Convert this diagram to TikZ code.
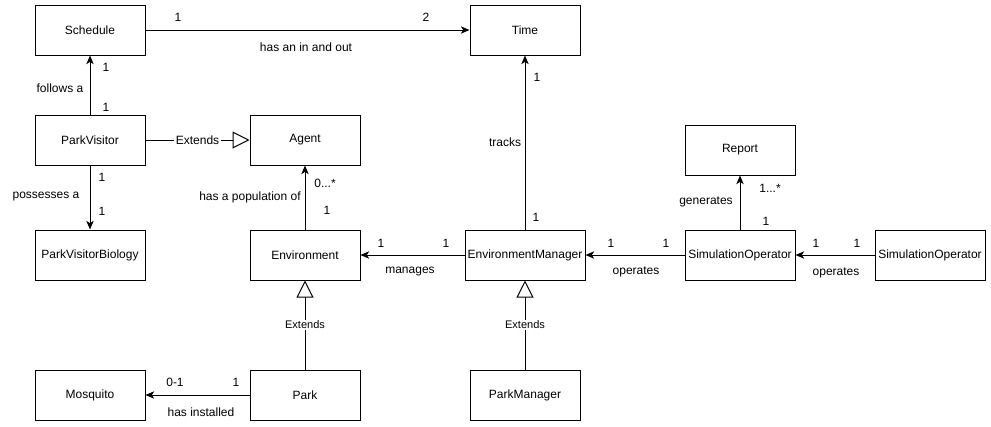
\documentclass[tikz,border=0pt]{standalone}
\usepackage{fontspec}
\setmainfont{Liberation Sans}
\usetikzlibrary{arrows.meta}
\begin{document}
\begin{tikzpicture}[x=0.75pt,y=-0.75pt,
  box/.style={draw, line width=0.75pt, minimum width=82.5pt, minimum height=37.5pt, inner sep=0pt, font=\fontsize{9}{11}\selectfont},
  assoc/.style={line width=0.75pt, -{Stealth[length=6.5pt,width=5.5pt,inset=1.8pt]}},
  ext/.style={line width=0.75pt, -{Triangle[open,length=12.75pt,width=12.75pt,fill=white]}},
  lbl/.style={inner sep=0pt, font=\fontsize{9}{11}\selectfont},
  extlbl/.style={fill=white, inner sep=1pt, font=\fontsize{8.25}{10}\selectfont}
]
\useasboundingbox (0,0) rectangle (991,426);
% boxes
\node[box] (sched) at (90,30) {Schedule};
\node[box] (time) at (525,30) {Time};
\node[box] (pv) at (90,140) {ParkVisitor};
\node[box] (agent) at (305,140) {Agent};
\node[box] (report) at (740,150) {Report};
\node[box] (pvb) at (90,255) {ParkVisitorBiology};
\node[box] (env) at (305,255) {Environment};
\node[box, minimum width=90pt] (em) at (525,255) {EnvironmentManager};
\node[box] (simop) at (740,255) {SimulationOperator};
\node[box] (simop2) at (930,255) {SimulationOperator};
\node[box] (mosq) at (90,395) {Mosquito};
\node[box] (park) at (305,395) {Park};
\node[box] (pm) at (525,395) {ParkManager};
% connectors
\draw[assoc] (sched) -- (time);
\draw[assoc] (pv) -- (sched);
\draw[ext] (pv) -- node[extlbl, font=\fontsize{9}{11}\selectfont] (e1) {Extends} (agent);
\draw[assoc] (pv) -- (pvb);
\draw[assoc] (env) -- (agent);
\draw[assoc] (em) -- (env);
\draw[assoc] (em) -- (time);
\draw[assoc] (simop) -- (em);
\draw[assoc] (simop) -- (report);
\draw[assoc] (simop2) -- (simop);
\draw[ext] (park) -- node[extlbl] (e2) {Extends} (env);
\draw[ext] (pm) -- node[extlbl] (e3) {Extends} (em);
\draw[assoc] (park) -- (mosq);
% labels
\node[lbl] (a1) at (178,17) {1};
\node[lbl] (a2) at (426,17) {2};
\node[lbl] (a3) at (306,47) {has an in and out};
\node[lbl] (b1) at (106,67) {1};
\node[lbl] (b2) at (106,107) {1};
\node[lbl] (b3) at (60,88) {follows a};
\node[lbl] (c1) at (102,177) {1};
\node[lbl] (c2) at (102,211) {1};
\node[lbl] (c3) at (46,197) {possesses a};
\node[lbl] (d1) at (325,183) {0...*};
\node[lbl] (d2) at (327,210) {1};
\node[lbl] (d3) at (250,197) {has a population of};
\node[lbl] (f1) at (381,243) {1};
\node[lbl] (f2) at (446,243) {1};
\node[lbl] (f3) at (410,272) {manages};
\node[lbl] (g1) at (537,77) {1};
\node[lbl] (g2) at (536,217) {1};
\node[lbl] (g3) at (505,142) {tracks};
\node[lbl] (h1) at (770,188) {1...*};
\node[lbl] (h2) at (766,221) {1};
\node[lbl] (h3) at (706,202) {generates};
\node[lbl] (i1) at (611,243) {1};
\node[lbl] (i2) at (666,243) {1};
\node[lbl] (i3) at (636,272) {operates};
\node[lbl] (j1) at (816,243) {1};
\node[lbl] (j2) at (857,243) {1};
\node[lbl] (j3) at (836,273) {operates};
\node[lbl] (k1) at (175,382) {0-1};
\node[lbl] (k2) at (236,382) {1};
\node[lbl] (k3) at (201,412) {has installed};
\end{tikzpicture}
\end{document}
